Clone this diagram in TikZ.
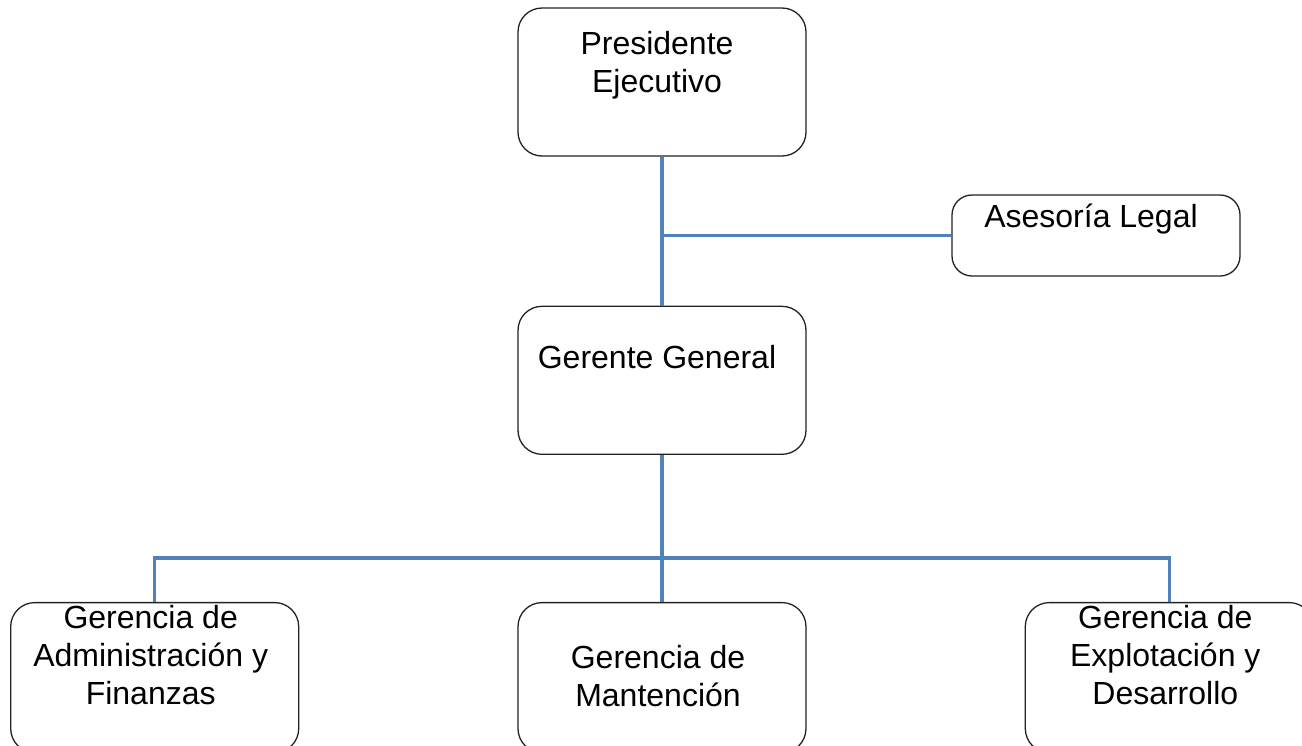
\documentclass[tikz,border=0pt]{standalone}
\usepackage{fontspec}
\setmainfont{Liberation Sans}
\usetikzlibrary{positioning}
\definecolor{LinkBlue}{HTML}{4F81BD}
\definecolor{BoxEdge}{HTML}{222222}
\tikzset{
  orgbox/.style={rectangle, rounded corners=24pt, draw=BoxEdge, line width=1.3pt, minimum width=288pt, minimum height=148pt, inner sep=0pt},
  boxtext/.style={align=center, inner sep=0pt, anchor=base, font=\fontsize{32}{38}\selectfont},
  link/.style={LinkBlue, line width=3.2pt}
}

\begin{document}
\begin{tikzpicture}[x=1pt, y=-1pt]
  \useasboundingbox (0,0) rectangle (1302,745);

  % boxes
  \node[orgbox] (pres) at (662,82) {};
  \node[orgbox, below=149pt of pres] (gerente) {};
  \node[orgbox, minimum height=81pt, rounded corners=20pt] (legal) at (1096,235.5) {};
  \node[orgbox, minimum height=150pt, below=147pt of gerente] (mant) {};
  \node[orgbox, minimum height=150pt, left=218pt of mant] (admin) {};
  \node[orgbox, minimum height=150pt, right=218pt of mant] (explot) {};

  % texts (base = last line)
  \node[boxtext] (presT) at ([xshift=-5pt, yshift=-85pt]pres.north) {Presidente\\Ejecutivo};
  \node[boxtext] (gerenteT) at ([xshift=-5pt, yshift=-63pt]gerente.north) {Gerente General};
  \node[boxtext] (legalT) at ([xshift=-5pt, yshift=-33pt]legal.north) {Asesoría Legal};
  \node[boxtext] (adminT) at ([xshift=-4pt, yshift=-103pt]admin.north) {Gerencia de\\Administración y\\Finanzas};
  \node[boxtext] (mantT) at ([xshift=-4pt, yshift=-105pt]mant.north) {Gerencia de\\Mantención};
  \node[boxtext] (explotT) at ([xshift=-4pt, yshift=-103pt]explot.north) {Gerencia de\\Explotación y\\Desarrollo};

  % connectors
  \coordinate (legalJ) at (pres.south |- legal.west);
  \coordinate (busY) at (0,558);
  \draw[link] (pres.south) -- (gerente.north);
  \draw[link] (legalJ) -- (legal.west);
  \draw[link] (gerente.south) -- (mant.north);
  \draw[link] (admin.north) -- (admin.north |- busY) -- (explot.north |- busY) -- (explot.north);
\end{tikzpicture}
\end{document}
